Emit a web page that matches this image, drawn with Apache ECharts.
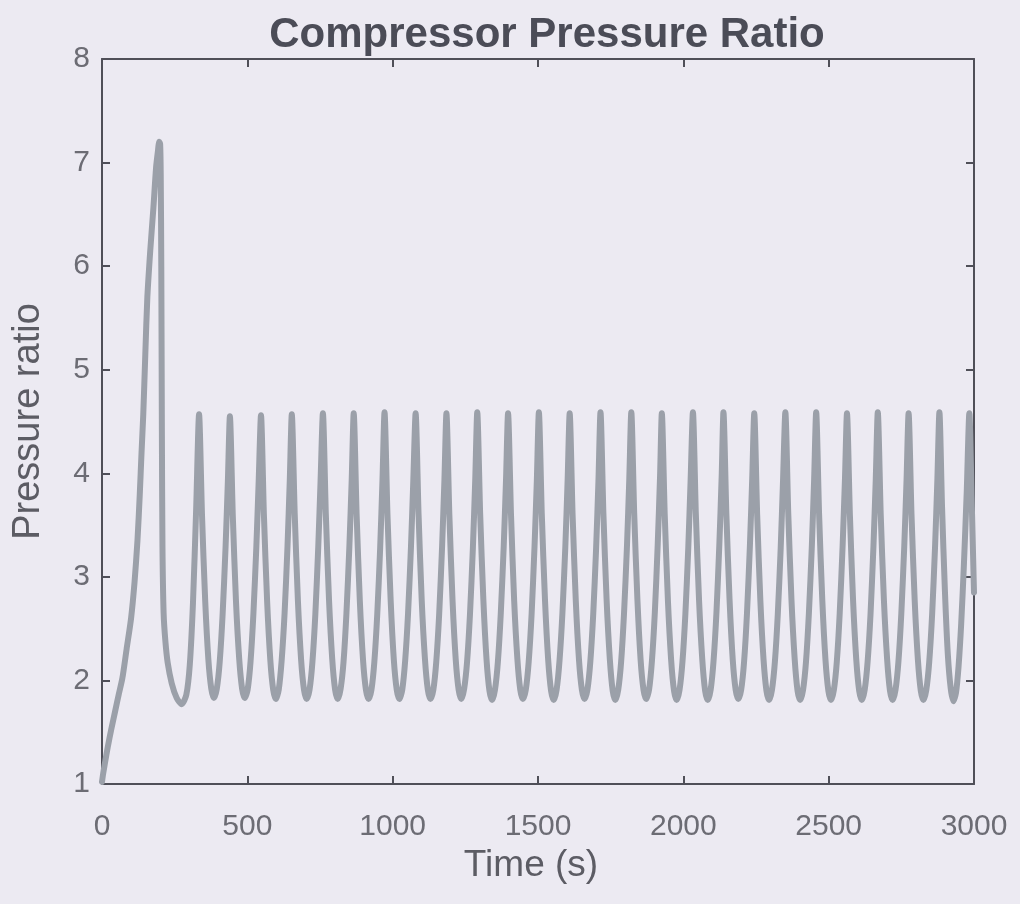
<!DOCTYPE html>
<html>
<head>
<meta charset="utf-8">
<script src="https://cdn.jsdelivr.net/npm/echarts@6/dist/echarts.min.js"></script>
<style>
  html, body { margin: 0; padding: 0; background: #eceaf2; }
  #chart { width: 1020px; height: 904px; }
</style>
</head>
<body>
<div id="chart"></div>
<script>
// ---- data ----
const chartTitle = 'Compressor Pressure Ratio';
const xName = 'Time (s)';
const yName = 'Pressure ratio';
const xTicks = [0, 500, 1000, 1500, 2000, 2500, 3000];
const yTicks = [1, 2, 3, 4, 5, 6, 7, 8];

// start-up transient (s)
const startTime = [0, 4, 10, 20, 32, 45, 58, 70, 85, 100, 112, 122, 130, 136, 142, 149, 156, 166, 177, 186, 192, 197, 200, 202, 204, 206, 208, 212, 218, 226, 240, 257, 274, 290, 302, 313, 324];
const startRatio = [1.02, 1.10, 1.20, 1.36, 1.53, 1.70, 1.87, 2.02, 2.31, 2.60, 2.95, 3.35, 3.80, 4.20, 4.57, 5.15, 5.70, 6.15, 6.57, 6.95, 7.10, 7.20, 7.18, 6.90, 6.00, 4.40, 3.30, 2.65, 2.38, 2.17, 1.97, 1.83, 1.77, 1.86, 2.15, 2.75, 3.66];

// surge cycles (s)
const cycleTime = [
  334, 344, 355, 366, 376, 385, 395, 405, 415, 425, 433,
  440, 450, 461, 472, 482, 491, 501, 511, 521, 531, 539,
  547, 557, 568, 579, 589, 598, 608, 618, 628, 638, 646,
  653, 663, 674, 685, 695, 704, 714, 724, 734, 744, 752,
  760, 770, 781, 792, 802, 811, 821, 831, 841, 851, 859,
  866, 876, 887, 898, 908, 917, 927, 937, 947, 957, 965,
  972, 982, 993, 1004, 1014, 1023, 1033, 1043, 1053, 1063, 1071,
  1079, 1089, 1100, 1111, 1121, 1130, 1140, 1150, 1160, 1170, 1178,
  1185, 1195, 1206, 1217, 1227, 1236, 1246, 1256, 1266, 1276, 1284,
  1291, 1301, 1312, 1323, 1333, 1342, 1352, 1362, 1372, 1382, 1390,
  1397, 1407, 1418, 1429, 1439, 1448, 1458, 1468, 1478, 1488, 1496,
  1503, 1513, 1524, 1535, 1545, 1554, 1564, 1574, 1584, 1594, 1602,
  1609, 1619, 1630, 1641, 1651, 1660, 1670, 1680, 1690, 1700, 1708,
  1715, 1725, 1736, 1747, 1757, 1766, 1776, 1786, 1796, 1806, 1814,
  1821, 1831, 1842, 1853, 1863, 1872, 1882, 1892, 1902, 1912, 1920,
  1926, 1936, 1947, 1958, 1968, 1977, 1987, 1997, 2007, 2017, 2025,
  2033, 2043, 2054, 2065, 2075, 2084, 2094, 2104, 2114, 2124, 2132,
  2138, 2148, 2159, 2170, 2180, 2189, 2199, 2209, 2219, 2229, 2237,
  2244, 2254, 2265, 2276, 2286, 2295, 2305, 2315, 2325, 2335, 2343,
  2351, 2361, 2372, 2383, 2393, 2402, 2412, 2422, 2432, 2442, 2450,
  2457, 2467, 2478, 2489, 2499, 2508, 2518, 2528, 2538, 2548, 2556,
  2563, 2573, 2584, 2595, 2605, 2614, 2624, 2634, 2644, 2654, 2662,
  2669, 2679, 2690, 2701, 2711, 2720, 2730, 2740, 2750, 2760, 2768,
  2775, 2785, 2796, 2807, 2817, 2826, 2836, 2846, 2856, 2866, 2874,
  2881, 2890, 2900, 2910, 2920, 2929, 2938, 2947, 2956, 2965, 2975,
  2984, 2992, 3000
];
const cycleRatio = [
  4.57, 3.60, 2.77, 2.20, 1.92, 1.83, 1.92, 2.18, 2.64, 3.28, 3.92,
  4.55, 3.59, 2.76, 2.21, 1.92, 1.83, 1.91, 2.18, 2.65, 3.29, 3.92,
  4.56, 3.60, 2.77, 2.20, 1.91, 1.82, 1.91, 2.19, 2.64, 3.28, 3.93,
  4.57, 3.61, 2.77, 2.20, 1.91, 1.82, 1.91, 2.18, 2.64, 3.29, 3.93,
  4.58, 3.61, 2.78, 2.21, 1.91, 1.82, 1.92, 2.18, 2.65, 3.29, 3.93,
  4.58, 3.60, 2.77, 2.20, 1.91, 1.82, 1.91, 2.18, 2.64, 3.28, 3.94,
  4.59, 3.61, 2.78, 2.20, 1.91, 1.82, 1.91, 2.19, 2.65, 3.29, 3.93,
  4.58, 3.61, 2.77, 2.21, 1.91, 1.82, 1.91, 2.18, 2.64, 3.29, 3.93,
  4.58, 3.60, 2.77, 2.20, 1.91, 1.82, 1.92, 2.18, 2.64, 3.28, 3.93,
  4.59, 3.61, 2.78, 2.20, 1.90, 1.81, 1.91, 2.18, 2.65, 3.29, 3.94,
  4.58, 3.61, 2.77, 2.21, 1.91, 1.82, 1.91, 2.18, 2.64, 3.29, 3.93,
  4.59, 3.61, 2.78, 2.20, 1.90, 1.81, 1.91, 2.19, 2.65, 3.29, 3.94,
  4.58, 3.60, 2.77, 2.20, 1.91, 1.82, 1.91, 2.18, 2.64, 3.28, 3.93,
  4.59, 3.61, 2.78, 2.21, 1.90, 1.81, 1.91, 2.18, 2.65, 3.29, 3.94,
  4.59, 3.61, 2.78, 2.20, 1.91, 1.82, 1.91, 2.19, 2.66, 3.32, 3.98,
  4.58, 3.60, 2.77, 2.20, 1.90, 1.81, 1.91, 2.18, 2.64, 3.28, 3.93,
  4.59, 3.61, 2.78, 2.21, 1.90, 1.81, 1.91, 2.19, 2.66, 3.32, 3.98,
  4.59, 3.61, 2.78, 2.20, 1.91, 1.82, 1.91, 2.18, 2.65, 3.30, 3.95,
  4.58, 3.60, 2.77, 2.20, 1.90, 1.81, 1.91, 2.18, 2.64, 3.28, 3.93,
  4.59, 3.61, 2.78, 2.21, 1.90, 1.81, 1.91, 2.18, 2.65, 3.29, 3.94,
  4.59, 3.61, 2.78, 2.20, 1.90, 1.81, 1.91, 2.18, 2.65, 3.30, 3.94,
  4.58, 3.60, 2.77, 2.20, 1.90, 1.81, 1.91, 2.18, 2.64, 3.29, 3.94,
  4.59, 3.61, 2.78, 2.21, 1.90, 1.81, 1.91, 2.18, 2.65, 3.29, 3.94,
  4.58, 3.60, 2.77, 2.20, 1.90, 1.81, 1.91, 2.18, 2.64, 3.29, 3.94,
  4.59, 3.68, 2.86, 2.25, 1.92, 1.80, 1.88, 2.14, 2.55, 3.10, 3.82,
  4.58, 3.75, 2.85
];

// ---- build chart ----
const points = [];
startTime.forEach((t, i) => points.push([t, startRatio[i]]));
cycleTime.forEach((t, i) => points.push([t, cycleRatio[i]]));

const FONT = "'Liberation Sans', Arial, Helvetica, sans-serif";
const AXIS_COLOR = '#4f4f58';
const LABEL_COLOR = '#6c6c74';

function axisBase(extra) {
  return Object.assign({
    type: 'value',
    axisLine: { show: true, onZero: false, lineStyle: { color: AXIS_COLOR, width: 2 } },
    axisTick: { show: true, inside: true, length: 8, lineStyle: { color: AXIS_COLOR, width: 2 } },
    splitLine: { show: false },
    axisLabel: { show: false }
  }, extra);
}

const chart = echarts.init(document.getElementById('chart'), null, { renderer: 'canvas' });
const option = {
  backgroundColor: '#eceaf2',
  animation: false,
  title: {
    text: chartTitle,
    left: 542,
    textAlign: 'center',
    top: 9,
    textStyle: { fontFamily: FONT, fontWeight: 'bold', fontSize: 42, color: '#4b4c57' }
  },
  grid: { left: 102, right: 46, top: 59, bottom: 120, show: false },
  xAxis: [
    axisBase({
      min: xTicks[0], max: xTicks[xTicks.length - 1], interval: xTicks[1] - xTicks[0],
      position: 'bottom',
      name: xName, nameLocation: 'middle', nameGap: 52,
      nameTextStyle: { fontFamily: FONT, fontSize: 37, color: '#5c5c64', padding: [0, 14, 0, 0] },
      axisLabel: { show: true, margin: 28, fontFamily: FONT, fontSize: 30, color: LABEL_COLOR,
        formatter: function (v) { return String(v); } }
    }),
    axisBase({
      min: xTicks[0], max: xTicks[xTicks.length - 1], interval: xTicks[1] - xTicks[0],
      position: 'top'
    })
  ],
  yAxis: [
    axisBase({
      min: yTicks[0], max: yTicks[yTicks.length - 1], interval: yTicks[1] - yTicks[0],
      position: 'left',
      name: yName, nameLocation: 'middle', nameGap: 54,
      nameTextStyle: { fontFamily: FONT, fontSize: 38, color: '#5c5c64' },
      axisLabel: { show: true, margin: 12, fontFamily: FONT, fontSize: 30, color: LABEL_COLOR }
    }),
    axisBase({
      min: yTicks[0], max: yTicks[yTicks.length - 1], interval: yTicks[1] - yTicks[0],
      position: 'right'
    })
  ],
  series: [{
    type: 'line',
    xAxisIndex: 0,
    yAxisIndex: 0,
    data: points,
    showSymbol: false,
    smooth: 0.25,
    clip: true,
    lineStyle: { color: '#9ba0a9', width: 6, join: 'round', cap: 'round' }
  }]
};
chart.setOption(option);
</script>
</body>
</html>
